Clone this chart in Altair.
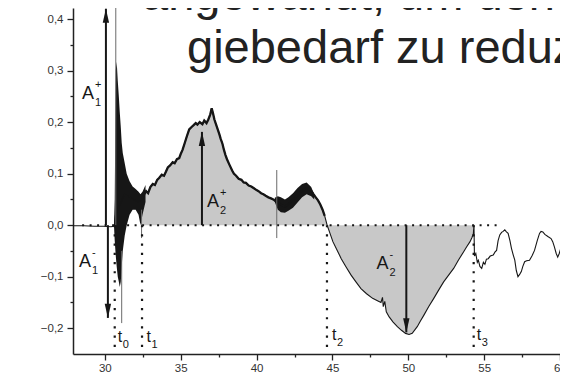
import altair as alt
import pandas as pd

# ---------------- data ----------------
curve_x = [27.9, 28.6, 29.3, 29.9, 30.4, 30.62, 30.7, 31.3, 31.6, 31.9, 32.2, 32.45, 32.6, 32.72, 32.85,
           33.0, 33.16, 33.3, 33.45, 33.59, 33.75, 33.9, 34.03, 34.15, 34.3, 34.47, 34.6, 34.75, 34.9,
           35.0, 35.12, 35.25, 35.4, 35.56, 35.7, 35.85, 35.99, 36.1, 36.25, 36.43, 36.55, 36.7, 36.82,
           36.95, 37.04, 37.12, 37.22, 37.3, 37.45, 37.55, 37.63, 37.75, 37.85, 37.95, 38.05, 38.2,
           38.39, 38.5, 38.65, 38.82, 39.0, 39.15, 39.3, 39.48, 39.65, 39.8, 40.0, 40.13, 40.3, 40.45,
           40.6, 40.78, 40.95, 41.1, 41.33, 41.5, 41.7, 41.87, 42.05, 42.2, 42.4, 42.53, 42.7, 42.85,
           43.0, 43.18, 43.3, 43.45, 43.61, 43.75, 43.9, 44.05, 44.2, 44.35, 44.49, 44.65,
           45.03, 45.3, 45.58, 45.9, 46.23, 46.55, 46.88, 47.25, 47.65, 48.0, 48.2, 48.3, 48.35, 48.45,
           48.55, 48.74, 49.0, 49.28, 49.55, 49.82, 50.05, 50.26, 50.59, 50.8, 51.02, 51.35, 51.68,
           52.0, 52.33, 52.66, 52.99, 53.3, 53.64, 53.85, 54.07, 54.2, 54.29, 54.33,
           54.36, 54.45, 54.55, 54.62, 54.72, 54.84, 54.95, 55.05, 55.15, 55.27, 55.4, 55.6, 55.72,
           55.82, 55.92, 56.03, 56.15, 56.25, 56.36, 56.47, 56.58, 56.7, 56.8, 56.92, 57.02, 57.12,
           57.23, 57.35, 57.45, 57.55, 57.67, 57.8, 57.99, 58.15, 58.32, 58.5, 58.65, 58.75, 58.87,
           59.0, 59.2, 59.41, 59.52, 59.63, 59.75, 59.85, 59.95, 60.05, 60.18]
curve_y = [-0.001, -0.001, -0.002, -0.002, -0.003, -0.002, 0.02, 0.06, 0.055, 0.05, 0.045, 0.05, 0.06, 0.066, 0.062,
           0.074, 0.08, 0.078, 0.088, 0.092, 0.098, 0.096, 0.104, 0.112, 0.116, 0.122, 0.12, 0.128, 0.13,
           0.138, 0.146, 0.158, 0.172, 0.186, 0.19, 0.194, 0.198, 0.195, 0.2, 0.196, 0.203, 0.198, 0.205,
           0.215, 0.227, 0.218, 0.205, 0.198, 0.185, 0.176, 0.168, 0.158, 0.146, 0.136, 0.128, 0.118,
           0.106, 0.1, 0.096, 0.09, 0.088, 0.083, 0.082, 0.077, 0.075, 0.072, 0.068, 0.066, 0.062, 0.06,
           0.057, 0.054, 0.052, 0.05, 0.045, 0.042, 0.038, 0.036, 0.04, 0.044, 0.05, 0.052, 0.058, 0.063,
           0.067, 0.07, 0.072, 0.07, 0.066, 0.06, 0.054, 0.048, 0.04, 0.03, 0.018, 0.0,
           -0.032, -0.048, -0.065, -0.081, -0.097, -0.11, -0.123, -0.133, -0.142, -0.147, -0.15, -0.14, -0.158, -0.148,
           -0.168, -0.178, -0.188, -0.197, -0.204, -0.21, -0.212, -0.21, -0.197, -0.186, -0.175, -0.158, -0.142,
           -0.126, -0.11, -0.097, -0.084, -0.068, -0.052, -0.042, -0.032, -0.024, -0.016, 0.0,
           -0.06, -0.055, -0.072, -0.068, -0.08, -0.084, -0.072, -0.076, -0.066, -0.065, -0.06, -0.058, -0.052,
           -0.049, -0.03, -0.019, -0.014, -0.012, -0.009, -0.013, -0.016, -0.03, -0.045, -0.058, -0.068, -0.088,
           -0.1, -0.095, -0.09, -0.08, -0.071, -0.069, -0.068, -0.06, -0.049, -0.03, -0.016, -0.012, -0.013,
           -0.018, -0.022, -0.026, -0.032, -0.042, -0.055, -0.062, -0.055, -0.045, -0.039]

noise_seg = [1] * 19 + [2] * 11
noise_x = [30.6, 30.65, 30.72, 30.78, 30.85, 30.92, 30.98, 31.05, 31.11, 31.18, 31.31, 31.44, 31.63,
           31.83, 32.03, 32.22, 32.35, 32.48, 32.68,
           41.2, 41.4, 41.6, 41.87, 42.1, 42.4, 42.7, 43.0, 43.3, 43.6, 43.8]
noise_lo = [0.0, -0.03, -0.06, -0.08, -0.10, -0.11, -0.12, -0.11, -0.08, -0.05, -0.02, 0.0, 0.02,
            0.03, 0.03, 0.02, 0.0, 0.02, 0.045,
            0.045, 0.03, 0.025, 0.024, 0.028, 0.034, 0.044, 0.054, 0.06, 0.056, 0.05]
noise_hi = [0.0, 0.05, 0.30, 0.317, 0.28, 0.25, 0.22, 0.19, 0.16, 0.14, 0.12, 0.10, 0.085,
            0.075, 0.07, 0.065, 0.06, 0.065, 0.078,
            0.053, 0.056, 0.054, 0.05, 0.054, 0.062, 0.072, 0.08, 0.083, 0.074, 0.06]

spike_x = [30.72, 31.11, 32.42, 41.33]
spike_lo = [0.0, -0.19, -0.025, -0.025]
spike_hi = [0.43, -0.05, 0.03, 0.107]

t_x = [30.65, 32.45, 44.64, 54.31]
t_sub = ["0", "1", "2", "3"]
t_label_x = [30.85, 32.75, 44.97, 54.51]
t_label_y = [-0.227, -0.227, -0.222, -0.223]

zero_line_x = [28.5, 56.0]

arrow_x = [30.07, 30.2, 36.4, 49.87]
arrow_tip = [0.42, -0.18, 0.181, -0.208]

a_sup = ["+", "-", "+", "-"]
a_sub = ["1", "1", "2", "2"]
a_label_x = [28.5, 28.3, 36.73, 47.91]
a_label_y = [0.245, -0.082, 0.035, -0.085]

x_major = [30, 35, 40, 45, 50, 55, 60]
x_minor = [32.5, 37.5, 42.5, 47.5, 52.5, 57.5]
y_major = [-0.2, -0.1, 0.0, 0.1, 0.2, 0.3, 0.4]
y_minor = [-0.15, -0.05, 0.05, 0.15, 0.25, 0.35]

caption_lines = ["angewandt, um den", "giebedarf zu reduzieren"]

# ---------------- tables ----------------
curve = pd.DataFrame({"x": curve_x, "y": curve_y, "z": 0.0})
noise = pd.DataFrame({"seg": noise_seg, "x": noise_x, "lo": noise_lo, "hi": noise_hi})
spikes = pd.DataFrame({"x": spike_x, "lo": spike_lo, "hi": spike_hi})
tlines = pd.DataFrame({"x": t_x, "y0": 0.0, "y1": -0.25})
tlabels = pd.DataFrame({"x": t_label_x, "y": t_label_y, "sub": t_sub})
zero = pd.DataFrame({"x": zero_line_x, "y": 0.0})
arrows = pd.DataFrame({"x": arrow_x, "y0": 0.0, "tip": arrow_tip})
arrows["dir"] = ["up" if v > 0 else "down" for v in arrow_tip]
alabels = pd.DataFrame({"x": a_label_x, "y": a_label_y, "sup": a_sup, "sub": a_sub})

W, H = 487, 346
xs = alt.Scale(domain=[27.9, 60.0], nice=False, zero=False)
ys = alt.Scale(domain=[-0.25, 0.4214], nice=False, zero=False)
INK = "#161616"
FONT = "Liberation Sans"


def X(f="x"):
    return alt.X(f"{f}:Q", scale=xs, axis=None)


def Y(f="y"):
    return alt.Y(f"{f}:Q", scale=ys, axis=None)


fill = alt.Chart(curve).transform_filter(
    (alt.datum.x >= t_x[1]) & (alt.datum.x <= t_x[3])
).mark_area(color="#c8c8c8", orient="vertical", clip=True).encode(
    x=X(), y=Y(), y2=alt.Y2("z:Q"))

zero_line = alt.Chart(zero).mark_line(color=INK, strokeWidth=2, strokeDash=[2, 5.5]).encode(x=X(), y=Y())

band = alt.Chart(noise).mark_area(color=INK, orient="vertical", clip=True).encode(
    x=X(), y=Y("lo"), y2=alt.Y2("hi:Q"), detail="seg:N")

axis_common = dict(domainColor="#222", domainWidth=1.5, tickColor="#222", tickWidth=1.3,
                   labelFont=FONT, labelFontSize=11.5, labelColor="#333", grid=False, title=None,
                   labelFlush=False)

line = alt.Chart(curve).mark_line(color=INK, strokeWidth=1.1, clip=True).encode(
    x=alt.X("x:Q", scale=xs, axis=alt.Axis(values=x_major, format="d", orient="bottom",
                                           tickSize=6, labelPadding=2, **axis_common)),
    y=alt.Y("y:Q", scale=ys, axis=alt.Axis(values=y_major, orient="left", tickSize=6, labelPadding=4,
                                           labelExpr="replace(format(datum.value, '.1f'), '.', ',')",
                                           **axis_common)))

thick = alt.Chart(curve).transform_filter(
    (alt.datum.x >= 32.45) & (alt.datum.x <= 44.55)
).mark_line(color=INK, strokeWidth=2.3, clip=True).encode(x=X(), y=Y())

minor_axes = alt.Chart(zero).mark_point(opacity=0).encode(
    x=alt.X("x:Q", scale=xs, axis=alt.Axis(values=x_minor, labels=False, domain=False, orient="bottom",
                                           tickSize=3, tickColor="#222", tickWidth=1.3, grid=False,
                                           title=None)),
    y=alt.Y("y:Q", scale=ys, axis=alt.Axis(values=y_minor, labels=False, domain=False, orient="left",
                                           tickSize=3, tickColor="#222", tickWidth=1.3, grid=False,
                                           title=None)))

spike_rules = alt.Chart(spikes).mark_rule(color="#6a6a6a", strokeWidth=1, clip=True).encode(
    x=X(), y=Y("lo"), y2=alt.Y2("hi:Q"))

t_rules = alt.Chart(tlines).mark_rule(color=INK, strokeWidth=2.2, strokeDash=[2.2, 7]).encode(
    x=X(), y=Y("y0"), y2=alt.Y2("y1:Q"))

arrow_lines = alt.Chart(arrows).mark_rule(color=INK, strokeWidth=2).encode(
    x=X(), y=Y("y0"), y2=alt.Y2("tip:Q"))
head_up = alt.Chart(arrows).transform_filter(alt.datum.dir == "up").mark_point(
    shape="M0,-1L0.45,1L-0.45,1Z", filled=True, size=200, yOffset=7, color=INK, opacity=1
).encode(x=X(), y=Y("tip"))
head_down = alt.Chart(arrows).transform_filter(alt.datum.dir == "down").mark_point(
    shape="M0,1L0.45,-1L-0.45,-1Z", filled=True, size=200, yOffset=-7, color=INK, opacity=1
).encode(x=X(), y=Y("tip"))

a_main = alt.Chart(alabels).mark_text(text="A", font=FONT, fontSize=18, align="left",
                                      baseline="alphabetic", color=INK).encode(x=X(), y=Y())
a_sup_t = alt.Chart(alabels).mark_text(font=FONT, fontSize=11, align="left", baseline="alphabetic",
                                       dx=13, dy=-11, color=INK).encode(x=X(), y=Y(), text="sup:N")
a_sub_t = alt.Chart(alabels).mark_text(font=FONT, fontSize=11, align="left", baseline="alphabetic",
                                       dx=13, dy=7, color=INK).encode(x=X(), y=Y(), text="sub:N")

t_main = alt.Chart(tlabels).mark_text(text="t", font=FONT, fontSize=16, align="left",
                                      baseline="alphabetic", color=INK).encode(x=X(), y=Y())
t_sub_t = alt.Chart(tlabels).mark_text(font=FONT, fontSize=11, align="left", baseline="alphabetic",
                                       dx=5, dy=6, color=INK).encode(x=X(), y=Y(), text="sub:N")

cap = pd.DataFrame({"t": caption_lines})
cap1 = alt.Chart(cap).transform_filter(alt.datum.t == caption_lines[0]).mark_text(
    font=FONT, fontSize=47, align="left", baseline="alphabetic", color="#222"
).encode(x=alt.value(69), y=alt.value(2), text="t:N")
cap2 = alt.Chart(cap).transform_filter(alt.datum.t == caption_lines[1]).mark_text(
    font=FONT, fontSize=47, align="left", baseline="alphabetic", color="#222"
).encode(x=alt.value(114), y=alt.value(55), text="t:N")

chart = alt.layer(
    fill, zero_line, band, thick, line, minor_axes, spike_rules, t_rules,
    arrow_lines, head_up, head_down, a_main, a_sup_t, a_sub_t, t_main, t_sub_t, cap1, cap2
).resolve_axis(x="independent", y="independent").properties(
    width=W, height=H,
    autosize=alt.AutoSizeParams(type="none"),
    padding={"left": 65, "top": 0, "right": 0, "bottom": 24},
).configure_view(stroke=None)

chart.save("out.html", embed_options={"renderer": "svg", "actions": False})
